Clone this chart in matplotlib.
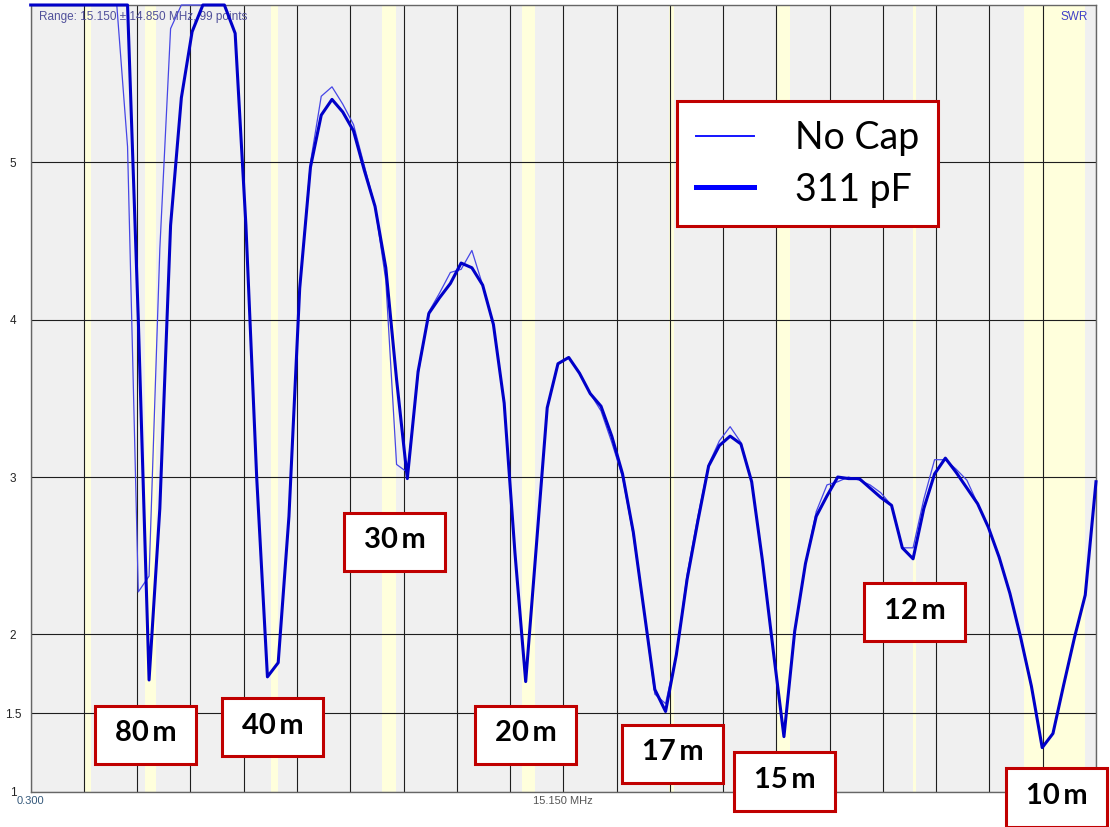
import numpy as np
import matplotlib.pyplot as plt
from matplotlib.lines import Line2D
from matplotlib.patches import Rectangle

# sweep: 0.3 .. 30 MHz in 0.3 MHz steps
freq_mhz = np.linspace(0.3, 30.0, 100)

swr_no_cap = [
    6.0, 6.0, 6.0, 6.0, 6.0, 6.0, 6.0, 6.0, 6.0, 5.1,
    2.27, 2.37, 4.45, 5.85, 6.0, 6.0, 6.0, 6.0, 6.0, 5.82,
    4.6, 3.0, 1.73, 1.82, 2.75, 4.2, 5.0, 5.42, 5.48, 5.37,
    5.24, 4.98, 4.72, 4.25, 3.08, 3.03, 3.65, 4.05, 4.17, 4.30,
    4.32, 4.44, 4.22, 3.97, 3.47, 2.52, 1.70, 2.57, 3.44, 3.72,
    3.76, 3.66, 3.53, 3.42, 3.22, 3.00, 2.63, 2.15, 1.62, 1.56,
    1.87, 2.38, 2.75, 3.08, 3.23, 3.32, 3.22, 2.97, 2.47, 1.90,
    1.35, 2.02, 2.45, 2.78, 2.95, 2.97, 3.00, 2.98, 2.95, 2.90,
    2.82, 2.55, 2.55, 2.86, 3.11, 3.11, 3.05, 2.98, 2.83, 2.68,
    2.49, 2.26, 1.98, 1.67, 1.28, 1.37, 1.68, 1.98, 2.25, 2.97,
]

swr_311pf = [
    6.0, 6.0, 6.0, 6.0, 6.0, 6.0, 6.0, 6.0, 6.0, 6.0,
    4.0, 1.71, 2.8, 4.6, 5.41, 5.83, 6.0, 6.0, 6.0, 5.82,
    4.6, 3.0, 1.73, 1.82, 2.75, 4.2, 4.97, 5.30, 5.40, 5.32,
    5.20, 4.95, 4.72, 4.33, 3.62, 2.99, 3.67, 4.04, 4.14, 4.23,
    4.36, 4.33, 4.22, 3.97, 3.47, 2.52, 1.70, 2.57, 3.44, 3.72,
    3.76, 3.66, 3.53, 3.45, 3.26, 3.02, 2.65, 2.15, 1.65, 1.51,
    1.87, 2.35, 2.72, 3.07, 3.20, 3.26, 3.21, 2.97, 2.47, 1.90,
    1.35, 2.02, 2.45, 2.75, 2.88, 3.00, 2.99, 2.99, 2.93, 2.87,
    2.82, 2.55, 2.48, 2.80, 3.02, 3.12, 3.03, 2.93, 2.83, 2.68,
    2.49, 2.26, 1.98, 1.67, 1.28, 1.37, 1.68, 1.98, 2.25, 2.97,
]

# amateur bands shaded in the analyzer view (MHz)
band_lo = [1.8, 3.5, 7.0, 10.1, 14.0, 18.1, 21.1, 24.89, 28.0]
band_hi = [1.97, 3.8, 7.2, 10.49, 14.35, 18.24, 21.47, 24.99, 29.7]

band_names = ['80m', '40m', '30m', '20m', '17m', '15m', '12m', '10m']
name_freq = [3.51, 7.04, 10.44, 14.10, 18.20, 21.32, 24.95, 28.91]
name_swr = [1.36, 1.41, 2.59, 1.36, 1.24, 1.065, 2.14, 0.963]

swr_ticks = [1, 1.5, 2, 3, 4, 5]
swr_tick_labels = ['1', '1.5', '2', '3', '4', '5']

W, H = 1110, 827
fig = plt.figure(figsize=(W / 100, H / 100), dpi=100)
ax = fig.add_axes([30.7 / W, 1 - 791.7 / H, 1065.3 / W, 786.7 / H])
ax.set_facecolor('#f0f0f0')
ax.set_xlim(0.3, 30.0)
ax.set_ylim(1, 6)

for lo, hi in zip(band_lo, band_hi):
    ax.axvspan(lo, hi, color='#ffffdc', lw=0, zorder=0.2)

grid_x = np.linspace(0.3, 30.0, 21)
xlabels = [''] * len(grid_x)
xlabels[0] = '0.300'
xlabels[10] = '15.150 MHz'
ax.set_xticks(grid_x)
ax.set_xticklabels(xlabels, fontsize=8, family='Liberation Sans')
ax.get_xticklabels()[0].set_color('#34587a')
ax.get_xticklabels()[10].set_color('#555555')

ax.set_yticks(swr_ticks)
ax.set_yticklabels(swr_tick_labels, fontsize=8.5, family='Liberation Sans', color='#222222')
for lbl in ax.get_yticklabels():
    lbl.set_horizontalalignment('center')

ax.tick_params(axis='both', length=0)
ax.tick_params(axis='y', pad=12.7)
ax.tick_params(axis='x', pad=3)
ax.set_axisbelow(True)
ax.grid(True, color='#1e1e1e', lw=0.8)
for sp in ax.spines.values():
    sp.set_color('#666666')
    sp.set_linewidth(1.0)

ax.plot(freq_mhz, swr_no_cap, color='#4646e6', lw=0.9, zorder=3, clip_on=False)
ax.plot(freq_mhz, swr_311pf, color='#0000c8', lw=2.2, zorder=4, clip_on=False)

ax.text(0.0078, 0.992, 'Range: 15.150 \u00b1 14.850 MHz, 99 points', transform=ax.transAxes,
        ha='left', va='top', fontsize=8.5, color='#50509a', family='Liberation Sans')
ax.text(0.9928, 0.992, 'SWR', transform=ax.transAxes, ha='right', va='top',
        fontsize=8.5, color='#4040c8', family='Liberation Sans')

# band name boxes
box_w, box_h = 2.82, 0.369
for name, f, s in zip(band_names, name_freq, name_swr):
    ax.add_patch(Rectangle((f - box_w / 2, s - box_h / 2), box_w, box_h, fc='white',
                           ec='#c00000', lw=2.2, zorder=5, clip_on=False))
    ax.text(f, s + 0.01, name.replace('m', '\u2009m'), ha='center', va='center', fontsize=21,
            fontweight='bold', family=['Lato', 'DejaVu Sans'], zorder=6, clip_on=False)

handles = [Line2D([], [], color='#1414ff', lw=1.4), Line2D([], [], color='#0000ff', lw=3.6)]
leg = ax.legend(handles, ['No Cap', '311 pF'], loc='upper left',
                bbox_to_anchor=(677 / W, 1 - 101 / H), bbox_transform=fig.transFigure,
                prop={'family': 'Lato', 'size': 27}, frameon=True, fancybox=False,
                framealpha=1, edgecolor='#c00000', borderpad=0.5, labelspacing=0.42,
                handlelength=1.55, handletextpad=1.1, borderaxespad=0)
leg.get_frame().set_linewidth(2.2)
leg.set_zorder(7)

fig.savefig('out.png', dpi=100)
